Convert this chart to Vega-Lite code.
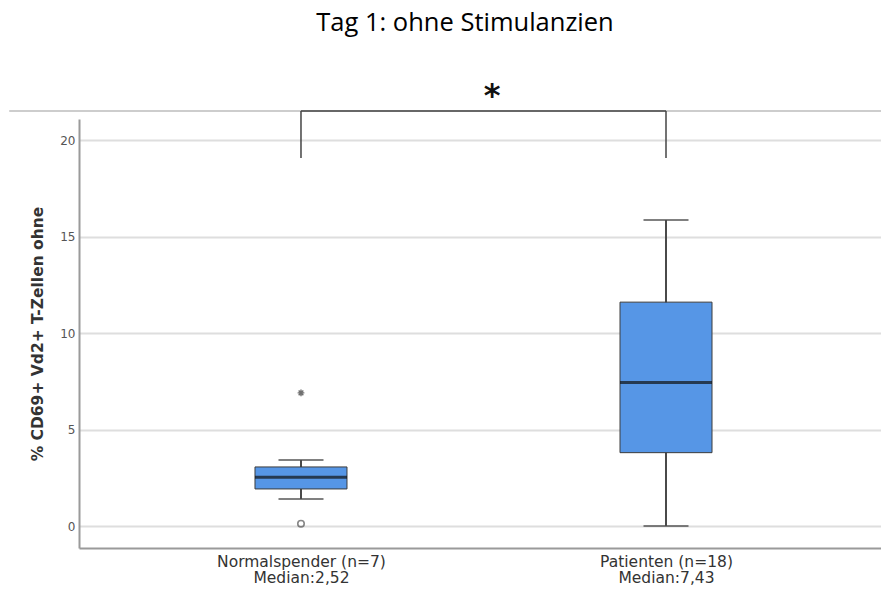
{
  "$schema": "https://vega.github.io/schema/vega-lite/v6.json",
  "width": 802,
  "height": 429,
  "autosize": {"type": "none"},
  "padding": {"left": 79, "top": 119, "right": 0, "bottom": 42},
  "title": {
    "text": "Tag 1: ohne Stimulanzien",
    "font": "Open Sans",
    "fontSize": 25.5,
    "fontWeight": "normal",
    "color": "#000000",
    "anchor": "middle",
    "frame": "group",
    "dx": -15,
    "offset": 43
  },
  "config": {
    "view": {"stroke": null},
    "font": "DejaVu Sans",
    "axisY": {
      "domainColor": "#9a9a9a",
      "domainWidth": 2,
      "gridColor": "#dedede",
      "gridWidth": 2,
      "ticks": false,
      "labelColor": "#555555",
      "labelFontSize": 12,
      "labelPadding": 4,
      "titleFont": "DejaVu Sans",
      "titleFontWeight": "bold",
      "titleFontSize": 15.5,
      "titleColor": "#333333",
      "titlePadding": 14
    },
    "axisX": {
      "domainColor": "#9a9a9a",
      "domainWidth": 2,
      "ticks": false,
      "grid": false,
      "labelFontSize": 15.5,
      "labelColor": "#333333",
      "labelLineHeight": 16.5,
      "labelPadding": 6,
      "labelAngle": 0,
      "labelBaseline": "top",
      "title": null
    }
  },
  "datasets": {
    "boxen": [
      {"gruppe": "Normalspender (n=7)", "min": 1.4, "q1": 1.92, "median": 2.52, "q3": 3.06, "max": 3.42},
      {"gruppe": "Patienten (n=18)", "min": 0.0, "q1": 3.8, "median": 7.43, "q3": 11.6, "max": 15.85}
    ],
    "ausreisser": [
      {"gruppe": "Normalspender (n=7)", "wert": 0.12, "typ": "Ausreißer"},
      {"gruppe": "Normalspender (n=7)", "wert": 6.9, "typ": "Extremwert"}
    ],
    "signifikanz": [
      {"von": "Normalspender (n=7)", "bis": "Patienten (n=18)", "unten": 19.07, "oben": 21.5}
    ],
    "kopf": [
      {"start": -0.087, "ende": 1, "hoehe": 21.5, "stern_x": 0.515, "stern_y": 22.3, "zeichen": "*"}
    ]
  },
  "layer": [
    {
      "data": {"name": "kopf"},
      "layer": [
        {
          "mark": {"type": "rule", "color": "#bdbdbd", "strokeWidth": 1.5},
          "encoding": {
            "x": {"field": "start", "type": "quantitative", "scale": {"domain": [0, 1], "nice": false, "zero": false}, "axis": null},
            "x2": {"field": "ende"},
            "y": {"field": "hoehe", "type": "quantitative", "scale": {"domain": [-1.14, 21.09], "nice": false, "zero": false}, "title": "% CD69+ Vd2+ T-Zellen ohne"}
          }
        },
        {
          "mark": {"type": "text", "fontSize": 32, "font": "DejaVu Sans", "fontWeight": "bold", "color": "#111111", "baseline": "middle", "align": "center"},
          "encoding": {
            "x": {"field": "stern_x", "type": "quantitative", "scale": {"domain": [0, 1], "nice": false, "zero": false}, "axis": null},
            "y": {"field": "stern_y", "type": "quantitative", "title": "% CD69+ Vd2+ T-Zellen ohne"},
            "text": {"field": "zeichen"}
          }
        }
      ]
    },
    {
      "encoding": {
        "x": {
          "field": "gruppe",
          "type": "nominal",
          "scale": {"type": "point", "domain": ["Normalspender (n=7)", "Patienten (n=18)"], "padding": 0.5986, "align": 0.508},
          "axis": {
            "labelExpr": "datum.value === 'Normalspender (n=7)' ? ['Normalspender (n=7)', 'Median:2,52'] : ['Patienten (n=18)', 'Median:7,43']"
          }
        }
      },
      "layer": [
        {
          "data": {"name": "boxen"},
          "mark": {"type": "rule", "color": "#4a4a4a", "strokeWidth": 2},
          "encoding": {
            "y": {"field": "min", "type": "quantitative", "title": "% CD69+ Vd2+ T-Zellen ohne", "axis": {"values": [0, 5, 10, 15, 20]}},
            "y2": {"field": "max"}
          }
        },
        {
          "data": {"name": "boxen"},
          "mark": {"type": "tick", "color": "#4a4a4a", "size": 45, "thickness": 2},
          "encoding": {
            "y": {"field": "min", "type": "quantitative", "title": "% CD69+ Vd2+ T-Zellen ohne"}
          }
        },
        {
          "data": {"name": "boxen"},
          "mark": {"type": "tick", "color": "#4a4a4a", "size": 45, "thickness": 2},
          "encoding": {
            "y": {"field": "max", "type": "quantitative", "title": "% CD69+ Vd2+ T-Zellen ohne"}
          }
        },
        {
          "data": {"name": "boxen"},
          "mark": {"type": "bar", "size": 92, "color": "#5696e6", "stroke": "#3c3c3c", "strokeWidth": 1},
          "encoding": {
            "y": {"field": "q1", "type": "quantitative", "title": "% CD69+ Vd2+ T-Zellen ohne"},
            "y2": {"field": "q3"}
          }
        },
        {
          "data": {"name": "boxen"},
          "mark": {"type": "tick", "color": "#111111", "size": 92, "thickness": 3},
          "encoding": {
            "y": {"field": "median", "type": "quantitative", "title": "% CD69+ Vd2+ T-Zellen ohne"}
          }
        },
        {
          "data": {"name": "ausreisser"},
          "transform": [{"filter": "datum.typ === 'Ausreißer'"}],
          "mark": {"type": "point", "shape": "circle", "filled": false, "size": 42, "strokeWidth": 1.6, "color": "#555555"},
          "encoding": {
            "y": {"field": "wert", "type": "quantitative", "title": "% CD69+ Vd2+ T-Zellen ohne"}
          }
        },
        {
          "data": {"name": "ausreisser"},
          "transform": [{"filter": "datum.typ === 'Extremwert'"}],
          "mark": {"type": "point", "shape": "M-1,0L1,0M0,-1L0,1M-0.7,-0.7L0.7,0.7M-0.7,0.7L0.7,-0.7", "filled": false, "size": 45, "strokeWidth": 1.4, "color": "#333333"},
          "encoding": {
            "y": {"field": "wert", "type": "quantitative", "title": "% CD69+ Vd2+ T-Zellen ohne"}
          }
        },
        {
          "data": {"name": "signifikanz"},
          "mark": {"type": "rule", "color": "#444444", "strokeWidth": 1.5},
          "encoding": {
            "x": {"field": "von", "type": "nominal"},
            "x2": {"field": "bis"},
            "y": {"field": "oben", "type": "quantitative", "title": "% CD69+ Vd2+ T-Zellen ohne"}
          }
        },
        {
          "data": {"name": "signifikanz"},
          "mark": {"type": "rule", "color": "#444444", "strokeWidth": 1.5},
          "encoding": {
            "x": {"field": "von", "type": "nominal"},
            "y": {"field": "unten", "type": "quantitative", "title": "% CD69+ Vd2+ T-Zellen ohne"},
            "y2": {"field": "oben"}
          }
        },
        {
          "data": {"name": "signifikanz"},
          "mark": {"type": "rule", "color": "#444444", "strokeWidth": 1.5},
          "encoding": {
            "x": {"field": "bis", "type": "nominal"},
            "y": {"field": "unten", "type": "quantitative", "title": "% CD69+ Vd2+ T-Zellen ohne"},
            "y2": {"field": "oben"}
          }
        }
      ]
    }
  ],
  "resolve": {"scale": {"x": "independent"}, "axis": {"x": "independent"}}
}
